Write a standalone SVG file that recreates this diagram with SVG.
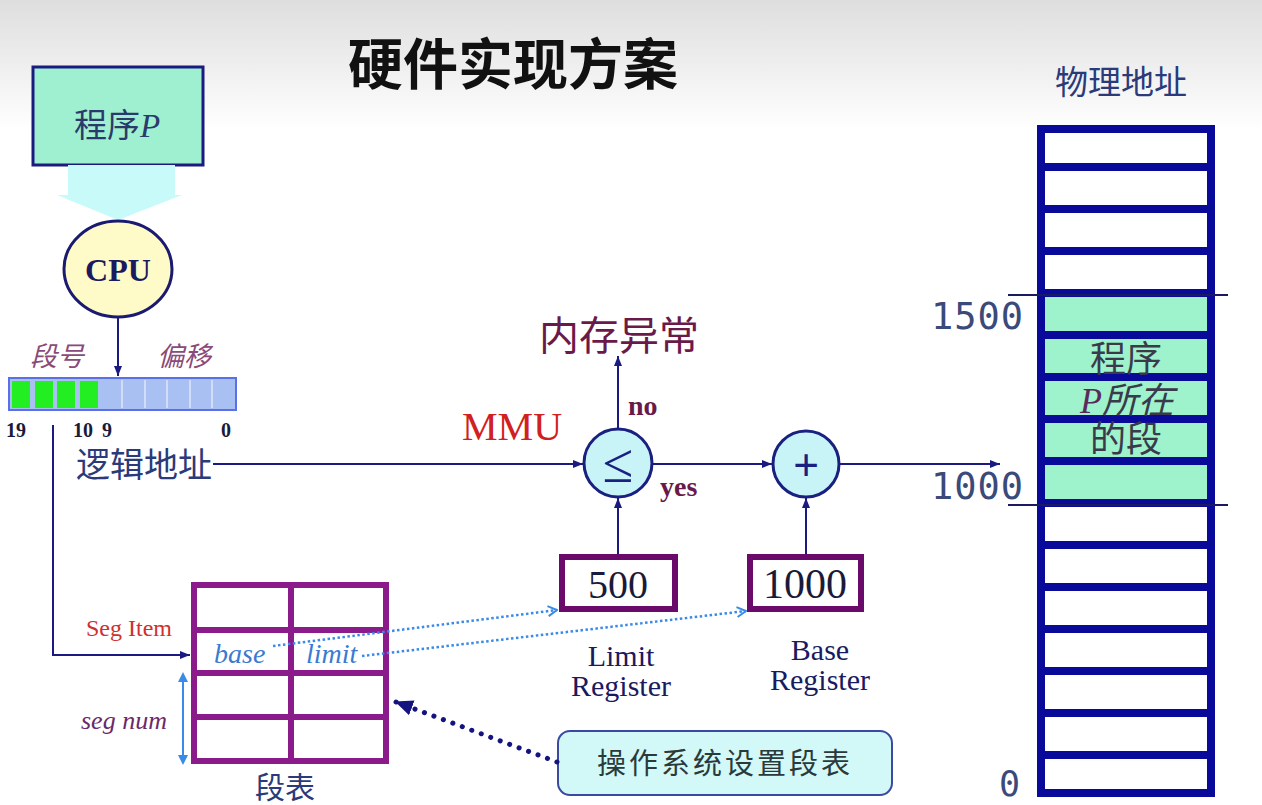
<svg xmlns="http://www.w3.org/2000/svg" width="1262" height="805" viewBox="0 0 1262 805">
<defs>
<linearGradient id="bg" x1="0" y1="0" x2="0" y2="1">
<stop offset="0" stop-color="#dedede"/>
<stop offset="1" stop-color="#ffffff"/>
</linearGradient>
<marker id="ah" viewBox="0 0 10 10" refX="10" refY="5" markerWidth="10" markerHeight="10" markerUnits="userSpaceOnUse" orient="auto">
<path d="M0,1 L10,5 L0,9 z" fill="#1a1a80"/>
</marker>
<marker id="chev" viewBox="0 0 12 12" refX="11" refY="6" markerWidth="12" markerHeight="12" markerUnits="userSpaceOnUse" orient="auto">
<path d="M2,1 L11,6 L2,11" fill="none" stroke="#3a8ae8" stroke-width="2"/>
</marker>
<marker id="tri" viewBox="0 0 16 16" refX="15" refY="8" markerWidth="18" markerHeight="18" markerUnits="userSpaceOnUse" orient="auto">
<path d="M0,1 L16,8 L0,15 z" fill="#141480"/>
</marker>
</defs>
<style>
.cjk{font-family:"Noto Sans CJK SC","Noto Sans CJK JP",sans-serif;}
.ser{font-family:"Liberation Serif","DejaVu Serif",serif;}
.mono{font-family:"DejaVu Sans Mono","Liberation Mono",monospace;}
.ln{stroke:#1a1a80;stroke-width:2;fill:none;}
.cell{stroke:#0a0a9a;stroke-width:8;}
.tb{stroke:#8b1a8b;stroke-width:6;fill:none;}
.reg{stroke:#6a0a6a;stroke-width:6;fill:#ffffff;}
</style>
<rect x="0" y="0" width="1262" height="130" fill="url(#bg)"/>
<rect x="0" y="130" width="1262" height="675" fill="#ffffff"/>

<text class="cjk" x="348" y="84" font-size="55" font-weight="bold" fill="#111111">硬件实现方案</text>

<g id="programP">
<rect x="33" y="67" width="170" height="98" fill="#9ef0d0" stroke="#1a1a80" stroke-width="3"/>
<text x="117" y="137" text-anchor="middle" font-size="33" fill="#2a3a6a"><tspan class="cjk">程序</tspan><tspan class="ser" font-style="italic">P</tspan></text>
</g>

<g id="loadArrow">
<path d="M68,165 L175,165 L175,195 L182,195 L118,220 L57,195 L68,195 z" fill="#c8fafa"/>
</g>

<g id="cpu">
<ellipse cx="118" cy="269" rx="54" ry="48" fill="#fefbc8" stroke="#1a1a70" stroke-width="3"/>
<text class="ser" x="118" y="281" text-anchor="middle" font-size="32" font-weight="bold" fill="#1a1a60">CPU</text>
</g>

<g id="logicalAddress">
<text class="cjk" x="30" y="366" font-size="27" font-style="italic" fill="#8a4a7a">段号</text>
<text class="cjk" x="157" y="366" font-size="27" font-style="italic" fill="#8a4a7a">偏移</text>
<rect x="9" y="378" width="227" height="32" fill="#a9c1f2" stroke="#5a70e8" stroke-width="2"/>
<g fill="#22ee22">
<rect x="12" y="381" width="18" height="27"/>
<rect x="35" y="381" width="18" height="27"/>
<rect x="57" y="381" width="18" height="27"/>
<rect x="80" y="381" width="18" height="27"/>
</g>
<g stroke="#d0dcf8" stroke-width="2">
<line x1="122" y1="380" x2="122" y2="408"/>
<line x1="145" y1="380" x2="145" y2="408"/>
<line x1="167" y1="380" x2="167" y2="408"/>
<line x1="190" y1="380" x2="190" y2="408"/>
<line x1="212" y1="380" x2="212" y2="408"/>
</g>
<text class="ser" x="6" y="437" font-size="20" font-weight="bold" fill="#1a1a3a">19</text>
<text class="ser" x="73" y="437" font-size="20" font-weight="bold" fill="#1a1a3a">10</text>
<text class="ser" x="102" y="437" font-size="20" font-weight="bold" fill="#1a1a3a">9</text>
<text class="ser" x="221" y="437" font-size="20" font-weight="bold" fill="#1a1a3a">0</text>
<text class="cjk" x="76" y="477" font-size="34" fill="#2a3a7a">逻辑地址</text>
</g>

<g id="segTable">
<rect x="194" y="585" width="192" height="176" class="tb"/>
<line x1="291" y1="585" x2="291" y2="761" class="tb"/>
<line x1="194" y1="630" x2="386" y2="630" class="tb"/>
<line x1="194" y1="673" x2="386" y2="673" class="tb"/>
<line x1="194" y1="717" x2="386" y2="717" class="tb"/>
<text class="ser" x="86" y="636" font-size="24" fill="#d03030">Seg Item</text>
<text class="ser" x="214" y="663" font-size="28" font-style="italic" fill="#3a7ad0">base</text>
<text class="ser" x="306" y="663" font-size="28" font-style="italic" fill="#3a7ad0">limit</text>
<text class="ser" x="81" y="729" font-size="26" font-style="italic" fill="#6a2a6a">seg num</text>
<text class="cjk" x="255" y="798" font-size="30" fill="#2a3a7a">段表</text>
</g>

<g id="mmu">
<text class="ser" x="462" y="440" font-size="40" fill="#d02020">MMU</text>
<text class="cjk" x="539" y="350" font-size="40" fill="#6a1a4a">内存异常</text>
<text class="ser" x="628" y="415" font-size="28" font-weight="bold" fill="#6a1a4a">no</text>
<text class="ser" x="660" y="496" font-size="28" font-weight="bold" fill="#6a1a4a">yes</text>
</g>

<g id="compare">
<circle cx="618" cy="463" r="34" fill="#c8f4f8" stroke="#1a2080" stroke-width="3"/>
<text class="ser" x="618" y="482" text-anchor="middle" font-size="56" fill="#1a2080">≤</text>
</g>

<g id="adder">
<circle cx="806" cy="464" r="33" fill="#c8f4f8" stroke="#1a2080" stroke-width="3"/>
<text x="806" y="480" text-anchor="middle" font-family="Liberation Sans, sans-serif" font-size="44" fill="#1a2080">+</text>
</g>

<g id="limitRegister">
<rect x="562" y="557" width="113" height="52" class="reg"/>
<text class="ser" x="618" y="598" text-anchor="middle" font-size="40" fill="#1a1a3a">500</text>
<text class="ser" x="621" y="666" text-anchor="middle" font-size="30" fill="#1a1a60">Limit</text>
<text class="ser" x="621" y="696" text-anchor="middle" font-size="30" fill="#1a1a60">Register</text>
</g>

<g id="baseRegister">
<rect x="750" y="557" width="111" height="52" class="reg"/>
<text class="ser" x="805" y="598" text-anchor="middle" font-size="42" fill="#1a1a3a">1000</text>
<text class="ser" x="820" y="660" text-anchor="middle" font-size="30" fill="#1a1a60">Base</text>
<text class="ser" x="820" y="690" text-anchor="middle" font-size="30" fill="#1a1a60">Register</text>
</g>

<g id="osNote">
<rect x="558" y="731" width="334" height="64" rx="12" fill="#d2f8f8" stroke="#3a4aa0" stroke-width="2"/>
<text class="cjk" x="725" y="774" text-anchor="middle" font-size="29" letter-spacing="3" fill="#2a3a3a">操作系统设置段表</text>
</g>

<g id="physicalMemory">
<text class="cjk" x="1055" y="94" font-size="33" fill="#2a3a7a">物理地址</text>
<rect x="1041" y="293" width="170" height="210" fill="#9ef2cc"/>
<rect x="1041" y="129" width="170" height="664" fill="none" class="cell"/>
<g class="cell">
<line x1="1041" y1="167" x2="1211" y2="167"/>
<line x1="1041" y1="209" x2="1211" y2="209"/>
<line x1="1041" y1="251" x2="1211" y2="251"/>
<line x1="1041" y1="293" x2="1211" y2="293"/>
<line x1="1041" y1="335" x2="1211" y2="335"/>
<line x1="1041" y1="377" x2="1211" y2="377"/>
<line x1="1041" y1="419" x2="1211" y2="419"/>
<line x1="1041" y1="461" x2="1211" y2="461"/>
<line x1="1041" y1="503" x2="1211" y2="503"/>
<line x1="1041" y1="545" x2="1211" y2="545"/>
<line x1="1041" y1="587" x2="1211" y2="587"/>
<line x1="1041" y1="629" x2="1211" y2="629"/>
<line x1="1041" y1="671" x2="1211" y2="671"/>
<line x1="1041" y1="713" x2="1211" y2="713"/>
<line x1="1041" y1="755" x2="1211" y2="755"/>
</g>
<line x1="1008" y1="295" x2="1228" y2="295" stroke="#1a1a60" stroke-width="2"/>
<line x1="1008" y1="505" x2="1228" y2="505" stroke="#1a1a60" stroke-width="2"/>
<text class="mono" x="931" y="329" font-size="37" letter-spacing="1" fill="#3a4a7a">1500</text>
<text class="mono" x="931" y="499" font-size="37" letter-spacing="1" fill="#3a4a7a">1000</text>
<text class="mono" x="999" y="796" font-size="35" fill="#3a4a7a">0</text>
<text x="1126" y="372" text-anchor="middle" font-size="36" fill="#3a3a4a" class="cjk">程序</text>
<text x="1127" y="413" text-anchor="middle" font-size="36" fill="#3a3a4a"><tspan class="ser" font-style="italic" fill="#5a2a5a">P</tspan><tspan class="cjk" font-style="italic">所在</tspan></text>
<text x="1126" y="452" text-anchor="middle" font-size="36" fill="#3a3a4a" class="cjk">的段</text>
</g>

<g id="connectors">
<line x1="118" y1="318" x2="118" y2="376" class="ln" marker-end="url(#ah)"/>
<polyline points="53,425 53,655 190,655" class="ln" marker-end="url(#ah)"/>
<line x1="183" y1="674" x2="183" y2="763" stroke="#3a8ae8" stroke-width="2"/>
<path d="M178,682 L183,672 L188,682 z M178,755 L183,765 L188,755 z" fill="#3a8ae8"/>
<line x1="213" y1="464" x2="583" y2="464" class="ln" marker-end="url(#ah)"/>
<line x1="618" y1="429" x2="618" y2="356" class="ln" marker-end="url(#ah)"/>
<line x1="652" y1="464" x2="772" y2="464" class="ln" marker-end="url(#ah)"/>
<line x1="839" y1="464" x2="1000" y2="464" class="ln" marker-end="url(#ah)"/>
<line x1="618" y1="554" x2="618" y2="498" class="ln" marker-end="url(#ah)"/>
<line x1="806" y1="554" x2="806" y2="498" class="ln" marker-end="url(#ah)"/>
<line x1="273" y1="646" x2="557" y2="610" stroke="#3a8ae8" stroke-width="2.5" stroke-dasharray="2.5 2.5" marker-end="url(#chev)"/>
<line x1="362" y1="656" x2="746" y2="611" stroke="#3a8ae8" stroke-width="2.5" stroke-dasharray="2.5 2.5" marker-end="url(#chev)"/>
<line x1="557" y1="762" x2="396" y2="702" stroke="#141480" stroke-width="5" stroke-linecap="round" stroke-dasharray="0.1 10" marker-end="url(#tri)"/>
</g>
</svg>
